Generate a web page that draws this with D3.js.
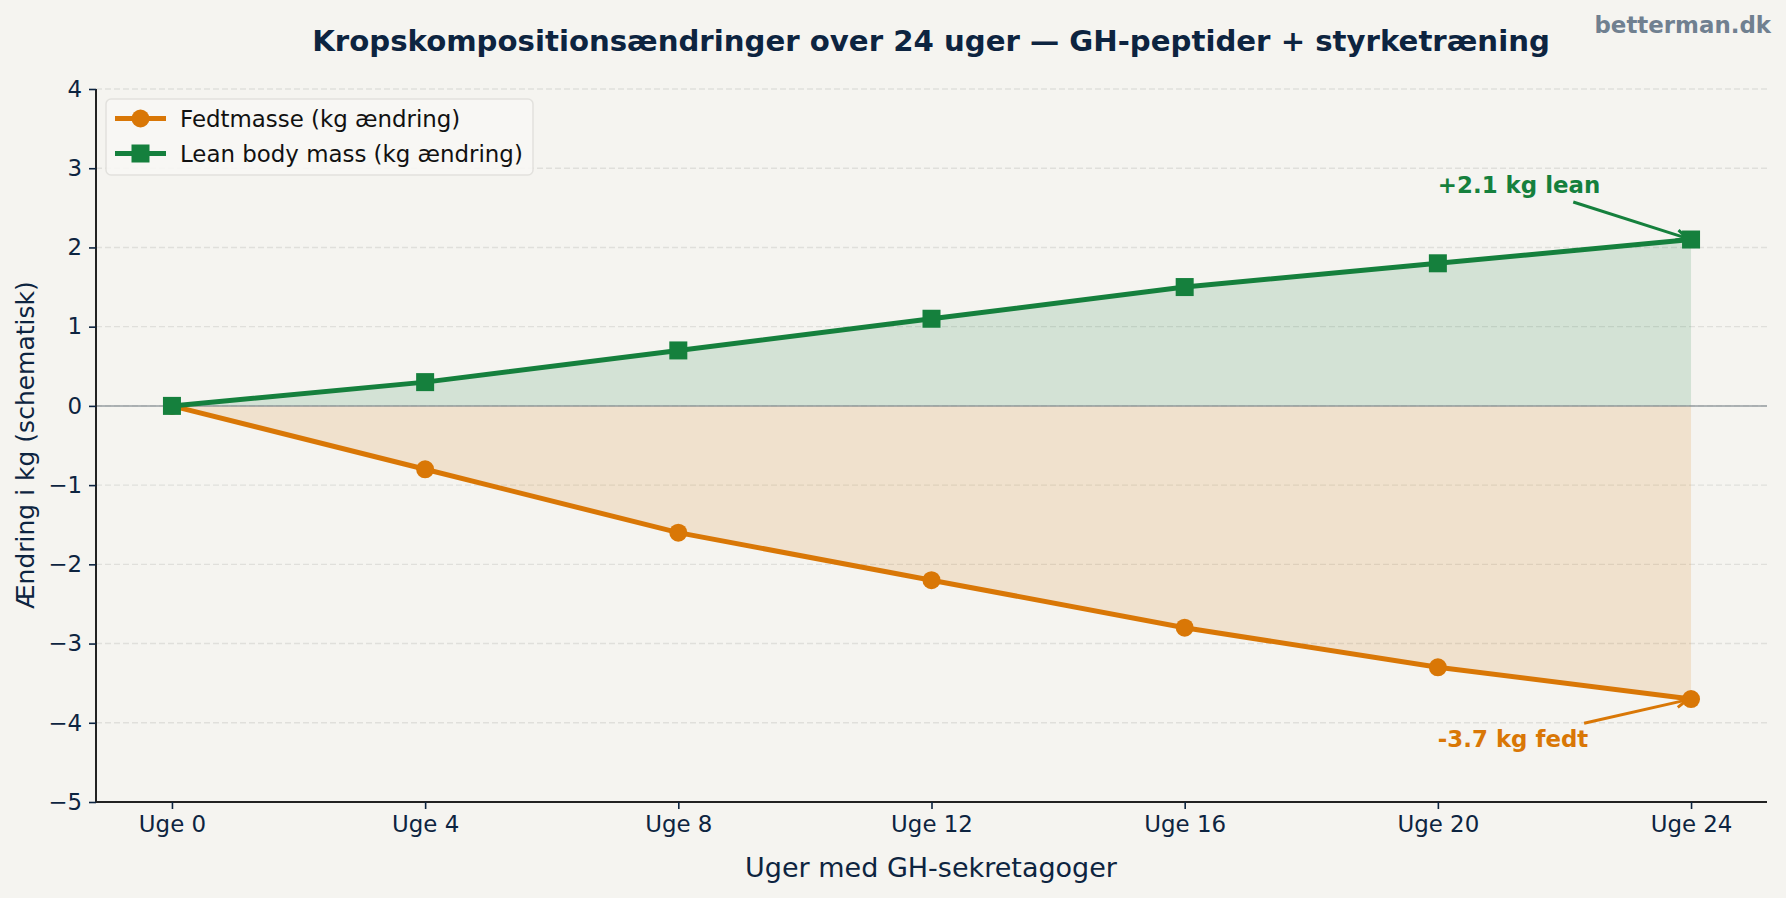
<!DOCTYPE html>
<html>
<head>
<meta charset="UTF-8">
<title>Kropskomposition</title>
<script src="https://cdn.jsdelivr.net/npm/d3@7"></script>
<style>
  body{ margin:0; background:#f5f4f0; }
  svg{ display:block; font-family:"DejaVu Sans", sans-serif; }
</style>
</head>
<body>
<script>
// data
var weeks = [0, 4, 8, 12, 16, 20, 24];
var weekLabels = ["Uge 0", "Uge 4", "Uge 8", "Uge 12", "Uge 16", "Uge 20", "Uge 24"];
var fatMass = [0, -0.8, -1.6, -2.2, -2.8, -3.3, -3.7];
var leanMass = [0, 0.3, 0.7, 1.1, 1.5, 1.8, 2.1];
var yTicks = [-5, -4, -3, -2, -1, 0, 1, 2, 3, 4];

var W = 1786, H = 898;
var ink = "#0d2440";
var orange = "#d97706", green = "#15803d";
var fs = 22.9;

var svg = d3.select("body").append("svg")
  .attr("width", W).attr("height", H);

svg.append("rect").attr("width", W).attr("height", H).attr("fill", "#f5f4f0");

var x = d3.scaleLinear().domain([-1.2, 25.2]).range([96, 1767]);
var y = d3.scaleLinear().domain([-5, 4]).range([802, 89]);

// grid
svg.append("g").selectAll("line").data(yTicks).enter().append("line")
  .attr("x1", x.range()[0]).attr("x2", x.range()[1])
  .attr("y1", d => y(d)).attr("y2", d => y(d))
  .attr("stroke", "#e0dfdb").attr("stroke-width", 1.4)
  .attr("stroke-dasharray", "6,3");

// filled areas
var rows = weeks.map((w, i) => ({w: w, fat: fatMass[i], lean: leanMass[i]}));

svg.append("path").datum(rows)
  .attr("d", d3.area().x(d => x(d.w)).y0(y(0)).y1(d => y(d.lean)))
  .attr("fill", green).attr("fill-opacity", 0.15);
svg.append("path").datum(rows)
  .attr("d", d3.area().x(d => x(d.w)).y0(y(0)).y1(d => y(d.fat)))
  .attr("fill", orange).attr("fill-opacity", 0.15);

// zero line
svg.append("line")
  .attr("x1", x.range()[0]).attr("x2", x.range()[1])
  .attr("y1", y(0)).attr("y2", y(0))
  .attr("stroke", "#808890").attr("stroke-opacity", 0.6).attr("stroke-width", 2);

// lines
svg.append("path").datum(rows)
  .attr("d", d3.line().x(d => x(d.w)).y(d => y(d.fat)))
  .attr("fill", "none").attr("stroke", orange).attr("stroke-width", 5);
svg.append("g").selectAll("circle").data(rows).enter().append("circle")
  .attr("cx", d => x(d.w)).attr("cy", d => y(d.fat)).attr("r", 9)
  .attr("fill", orange);

svg.append("path").datum(rows)
  .attr("d", d3.line().x(d => x(d.w)).y(d => y(d.lean)))
  .attr("fill", "none").attr("stroke", green).attr("stroke-width", 5);
svg.append("g").selectAll("rect").data(rows).enter().append("rect")
  .attr("x", d => x(d.w) - 9).attr("y", d => y(d.lean) - 9)
  .attr("width", 18).attr("height", 18)
  .attr("fill", green);

// axes
var xAxis = d3.axisBottom(x).tickValues(weeks)
  .tickFormat((d, i) => weekLabels[i]).tickSize(7).tickPadding(7);
var yAxis = d3.axisLeft(y).tickValues(yTicks)
  .tickFormat(d => d < 0 ? "\u2212" + Math.abs(d) : d).tickSize(7).tickPadding(7);

var gx = svg.append("g").attr("transform", "translate(0," + y(-5) + ")").call(xAxis);
var gy = svg.append("g").attr("transform", "translate(" + x(-1.2) + ",0)").call(yAxis);
[gx, gy].forEach(g => {
  g.select(".domain").attr("stroke", "#222").attr("stroke-width", 2);
  g.selectAll(".tick line").attr("stroke", ink).attr("stroke-width", 1.6);
  g.selectAll(".tick text").attr("fill", ink).attr("font-size", fs)
    .attr("font-family", "DejaVu Sans");
});
gx.select(".domain").attr("d", "M96,0H1767");
gy.select(".domain").attr("d", "M0,802V89");

// axis labels
svg.append("text").attr("x", 931).attr("y", 877)
  .attr("text-anchor", "middle").attr("fill", ink).attr("font-size", 27)
  .text("Uger med GH-sekretagoger");
svg.append("text")
  .attr("transform", "translate(34,445) rotate(-90)")
  .attr("text-anchor", "middle").attr("fill", ink).attr("font-size", 25)
  .text("Ændring i kg (schematisk)");

// title & watermark
svg.append("text").attr("x", 931).attr("y", 51)
  .attr("text-anchor", "middle").attr("fill", ink).attr("font-size", 29.2)
  .attr("font-weight", "bold")
  .text("Kropskompositionsændringer over 24 uger — GH-peptider + styrketræning");
svg.append("text").attr("x", 1771).attr("y", 33)
  .attr("text-anchor", "end").attr("fill", "#708090").attr("font-size", fs)
  .attr("font-weight", "bold").text("betterman.dk");

// annotations
function annotate(label, tx, ty, px, py, color) {
  var t = svg.append("text").attr("x", x(tx)).attr("y", y(ty))
    .attr("fill", color).attr("font-size", fs).attr("font-weight", "bold")
    .text(label);
  var b = t.node().getBBox();
  var cx = b.x + b.width / 2, cy = b.y + b.height / 2;
  var ex = x(px), ey = y(py);
  var dx = ex - cx, dy = ey - cy, len = Math.hypot(dx, dy);
  var ux = dx / len, uy = dy / len;
  // clip start to text box edge
  var s = Math.min(Math.abs((b.width / 2) / (ux || 1e-9)), Math.abs((b.height / 2) / (uy || 1e-9))) + 14;
  var sx = cx + ux * s, sy = cy + uy * s;
  var fx = ex - ux * 4, fy = ey - uy * 4;
  svg.append("line").attr("x1", sx).attr("y1", sy).attr("x2", fx).attr("y2", fy)
    .attr("stroke", color).attr("stroke-width", 3);
  var hl = 12, ang = Math.atan2(uy, ux);
  var p1 = [fx - hl * Math.cos(ang - 0.45), fy - hl * Math.sin(ang - 0.45)];
  var p2 = [fx - hl * Math.cos(ang + 0.45), fy - hl * Math.sin(ang + 0.45)];
  svg.append("path").attr("d", "M" + p1 + "L" + fx + "," + fy + "L" + p2)
    .attr("fill", "none").attr("stroke", color).attr("stroke-width", 3);
}
annotate("+2.1 kg lean", 20, 2.69, 24, 2.1, green);
annotate("-3.7 kg fedt", 20, -4.31, 24, -3.7, orange);

// legend
var lg = svg.append("g").attr("transform", "translate(106,99)");
lg.append("rect").attr("width", 427).attr("height", 76).attr("rx", 5)
  .attr("fill", "#f8f7f4").attr("fill-opacity", 0.9)
  .attr("stroke", "#e2e1dd").attr("stroke-width", 1.5);
var items = [
  {label: "Fedtmasse (kg ændring)", color: orange, shape: "circle"},
  {label: "Lean body mass (kg ændring)", color: green, shape: "square"}
];
items.forEach((it, i) => {
  var cy = 19.5 + i * 35;
  lg.append("line").attr("x1", 9).attr("x2", 60).attr("y1", cy).attr("y2", cy)
    .attr("stroke", it.color).attr("stroke-width", 5);
  if (it.shape === "circle") {
    lg.append("circle").attr("cx", 34.5).attr("cy", cy).attr("r", 9).attr("fill", it.color);
  } else {
    lg.append("rect").attr("x", 25.5).attr("y", cy - 9).attr("width", 18).attr("height", 18).attr("fill", it.color);
  }
  lg.append("text").attr("x", 74).attr("y", cy).attr("dy", "0.36em")
    .attr("fill", "#111").attr("font-size", fs).text(it.label);
});
</script>
</body>
</html>
